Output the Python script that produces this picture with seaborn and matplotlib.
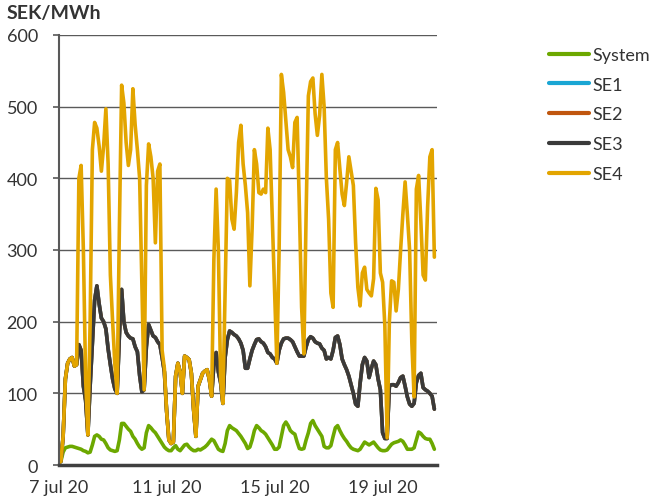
import matplotlib
matplotlib.use("Agg")
from matplotlib import pyplot as plt
from matplotlib.lines import Line2D
import pandas as pd
import seaborn as sns

# Nord Pool prices, 2-hour steps from 7 jul 2020 00:00 (12 values per day)
system = [
    3, 5, 18, 24, 25, 26, 26, 25, 24, 23, 22, 20,
    19, 17, 18, 28, 40, 42, 40, 36, 35, 30, 24, 21,
    20, 19, 20, 35, 58, 58, 54, 50, 47, 40, 36, 30,
    25, 22, 24, 45, 55, 52, 48, 45, 40, 35, 30, 25,
    22, 20, 20, 24, 27, 22, 20, 24, 28, 29, 25, 22,
    20, 20, 22, 21, 23, 25, 28, 32, 36, 34, 28, 22,
    20, 19, 30, 48, 55, 52, 50, 48, 44, 40, 35, 30,
    23, 25, 35, 48, 55, 52, 48, 46, 43, 38, 33, 28,
    22, 22, 25, 40, 55, 60, 55, 48, 45, 43, 32, 23,
    22, 23, 35, 45, 58, 62, 55, 50, 45, 40, 26, 24,
    24, 27, 40, 52, 55, 48, 42, 37, 33, 28, 24, 22,
    21, 20, 22, 27, 32, 30, 28, 30, 32, 28, 24, 21,
    20, 20, 21, 25, 29, 31, 32, 33, 35, 33, 28, 22,
    22, 22, 24, 35, 46, 44, 40, 37, 36, 36, 30, 22,
]
se3 = [
    3, 5, 40, 120, 142, 148, 150, 138, 140, 168, 160, 110,
    90, 42, 110, 170, 230, 250, 225, 205, 200, 190, 162, 140,
    120, 106, 100, 180, 245, 200, 185, 180, 177, 176, 165, 158,
    125, 102, 105, 165, 196, 188, 180, 178, 172, 168, 150, 130,
    75, 35, 30, 32, 124, 142, 130, 100, 152, 150, 147, 128,
    77, 40, 110, 119, 128, 131, 133, 119, 96, 140, 157, 130,
    115, 86, 150, 175, 187, 185, 182, 180, 176, 170, 160, 135,
    135, 148, 160, 168, 175, 176, 172, 170, 165, 157, 155, 150,
    148, 142, 160, 170, 176, 177, 177, 175, 172, 165, 158, 152,
    152, 152, 165, 175, 179, 177, 172, 170, 169, 163, 160, 148,
    150, 148, 160, 178, 180, 168, 148, 140, 133, 124, 112, 100,
    85, 82, 114, 140, 150, 145, 122, 135, 145, 140, 120, 105,
    45, 37, 37, 110, 112, 112, 110, 115, 122, 124, 110, 95,
    85, 82, 86, 115, 125, 128, 108, 105, 103, 100, 96, 78,
]
se4 = [
    3, 5, 40, 120, 142, 148, 150, 138, 140, 400, 418, 300,
    120, 42, 200, 440, 478, 470, 445, 410, 445, 497, 420, 265,
    200, 140, 100, 330, 530, 505, 450, 418, 440, 525, 475, 440,
    400, 250, 105, 390, 448, 430, 400, 310, 410, 420, 160, 135,
    75, 35, 30, 32, 124, 142, 130, 100, 152, 150, 147, 128,
    77, 40, 110, 119, 128, 131, 133, 119, 96, 287, 385, 300,
    120, 86, 240, 400, 397, 343, 329, 380, 450, 474, 420, 390,
    352, 250, 330, 440, 420, 380, 378, 385, 380, 470, 440, 340,
    240, 142, 300, 545, 520, 480, 440, 430, 415, 478, 485, 360,
    220, 155, 350, 515, 535, 540, 490, 460, 488, 545, 500, 400,
    343, 240, 220, 440, 450, 413, 378, 362, 394, 430, 410, 390,
    310, 248, 222, 268, 276, 245, 240, 236, 260, 386, 370, 268,
    255, 194, 38, 200, 257, 255, 215, 245, 300, 350, 395, 350,
    300, 170, 95, 385, 404, 340, 265, 258, 360, 430, 440, 290,
]
# SE1 and SE2 lie exactly under SE3 in the picture
se1 = list(se3)
se2 = list(se3)

names = ["System", "SE1", "SE2", "SE3", "SE4"]
colors = ["#6ca800", "#1aa6d4", "#c0560e", "#3a3a3a", "#e3a500"]
tick_days = ["2020-07-07", "2020-07-11", "2020-07-15", "2020-07-19"]
tick_labels = ["7 jul 20", "11 jul 20", "15 jul 20", "19 jul 20"]

times = pd.date_range("2020-07-07", periods=len(se4), freq="2h")
wide = pd.DataFrame({"System": system, "SE1": se1, "SE2": se2,
                     "SE3": se3, "SE4": se4}, index=times)
data = wide.reset_index(names="time").melt(id_vars="time", var_name="area",
                                           value_name="price")

sns.set_theme(style="white")
plt.rcParams["font.family"] = ["Lato", "DejaVu Sans"]
txt = "#333333"

fig = plt.figure(figsize=(6.5, 5.02), dpi=100)
ax = fig.add_axes([0.0902, 0.0717, 0.5815, 0.8566])

palette = dict(zip(names, colors))
sns.lineplot(data=data, x="time", y="price", hue="area", hue_order=names,
             palette=palette, linewidth=2.6, estimator=None, legend=False, ax=ax)

ax.set_xlim(pd.Timestamp("2020-07-07"), pd.Timestamp("2020-07-21"))
ax.set_ylim(0, 600)
ax.set_yticks(range(0, 601, 100))
ax.set_xticks(pd.to_datetime(tick_days))
ax.set_xticklabels(tick_labels)
ax.set_xlabel("")
ax.set_ylabel("")

ax.yaxis.grid(True, color="#5a5a5a", linewidth=1.0)
ax.xaxis.grid(False)
ax.set_axisbelow(True)
for s in ["top", "right"]:
    ax.spines[s].set_visible(False)
ax.spines["left"].set_color("#595959")
ax.spines["left"].set_linewidth(1.5)
ax.spines["bottom"].set_color("#404040")
ax.spines["bottom"].set_linewidth(2.5)
ax.tick_params(axis="y", length=4, width=1.2, color="#595959", pad=11,
               labelsize=13, labelcolor=txt, left=True)
ax.tick_params(axis="x", length=0, pad=10, labelsize=13, labelcolor=txt)

fig.text(7 / 650, 1 - 13 / 502, "SEK/MWh", fontsize=14, fontweight="bold",
         color=txt, va="center", ha="left")

handles = [Line2D([0], [0], color=c, lw=3) for c in colors]
ax.legend(handles, names, loc="upper left", bbox_to_anchor=(549 / 650, 1 - 48 / 502),
          bbox_transform=fig.transFigure, frameon=False, fontsize=13,
          handlelength=2.2, handletextpad=0.2, labelspacing=0.76,
          borderpad=0, borderaxespad=0, labelcolor=txt)

fig.savefig("out.png", dpi=100)
